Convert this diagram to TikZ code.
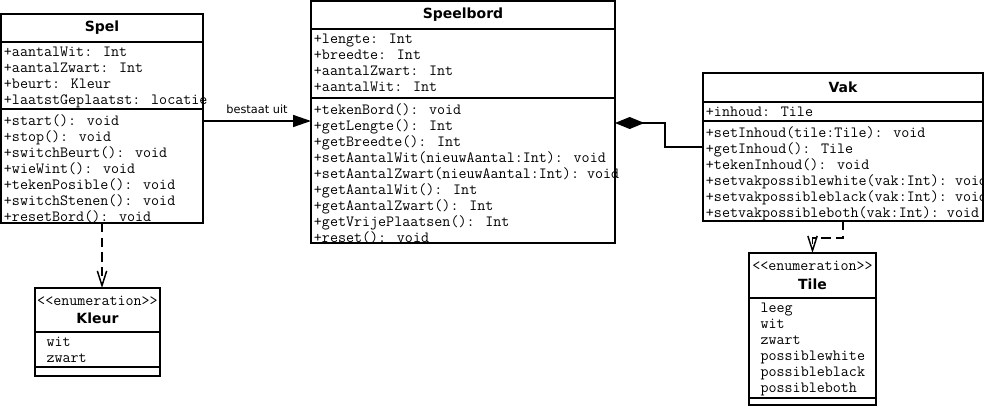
\documentclass[tikz,border=0pt]{standalone}
\usepackage{fontspec}
\setmainfont{DejaVu Sans}
\usetikzlibrary{positioning,arrows.meta}
\tikzset{
	compartment/.style 2 args={draw, line width=1.1pt, outer sep=0pt, inner sep=0pt,
		minimum width=#1*0.75pt, minimum height=#2*0.75pt},
	classname/.style={font=\fontsize{10.5}{14}\selectfont\bfseries, align=center},
	rows/.style={anchor=north west, align=left, inner xsep=2pt, inner ysep=3.8pt,
		font=\ttfamily\fontsize{11.7}{12}\selectfont},
	items/.style={rows, inner xsep=8.5pt},
	assoc/.style={line width=1.1pt, -{Triangle[length=13.5pt,width=9pt]}},
	comp/.style={line width=1.1pt, {Diamond[length=22pt,width=9pt]}-},
	dep/.style={line width=1.1pt, dash pattern=on 7pt off 4pt,
		-{Straight Barb[length=11pt,width=7pt]}}
}
\newcommand{\stereo}[1]{{\mdseries\ttfamily\fontsize{11.7}{12}\selectfont {<}{<}#1{>}{>}}}

\begin{document}
\begin{tikzpicture}[x=0.75pt, y=-0.75pt]
	\useasboundingbox (0,0) rectangle (984,407);

	\node[compartment={202}{28}, classname, anchor=north west] (spel) at (1,14) {Spel};
	\node[compartment={202}{67}, below=0pt of spel] (spel-attr) {};
	\node[compartment={202}{114}, below=0pt of spel-attr] (spel-ops) {};
	\node[rows] (spel-attr-t) at (spel-attr.north west) {+aantalWit: Int\\+aantalZwart: Int\\+beurt: Kleur\\+laatstGeplaatst: locatie};
	\node[rows] (spel-ops-t) at (spel-ops.north west) {+start(): void\\+stop(): void\\+switchBeurt(): void\\+wieWint(): void\\+tekenPosible(): void\\+switchStenen(): void\\+resetBord(): void};

	\node[compartment={304}{28}, classname, anchor=north west] (speelbord) at (311,1) {Speelbord};
	\node[compartment={304}{69}, below=0pt of speelbord] (speelbord-attr) {};
	\node[compartment={304}{145}, below=0pt of speelbord-attr] (speelbord-ops) {};
	\node[rows] (speelbord-attr-t) at (speelbord-attr.north west) {+lengte: Int\\+breedte: Int\\+aantalZwart: Int\\+aantalWit: Int};
	\node[rows] (speelbord-ops-t) at (speelbord-ops.north west) {+tekenBord(): void\\+getLengte(): Int\\+getBreedte(): Int\\+setAantalWit(nieuwAantal:Int): void\\+setAantalZwart(nieuwAantal:Int):~void\\+getAantalWit(): Int\\+getAantalZwart(): Int\\+getVrijePlaatsen(): Int\\+reset(): void};

	\node[compartment={280}{29}, classname, anchor=north west] (vak) at (703,73) {Vak};
	\node[compartment={280}{19}, below=0pt of vak] (vak-attr) {};
	\node[compartment={280}{100}, below=0pt of vak-attr] (vak-ops) {};
	\node[rows] (vak-attr-t) at (vak-attr.north west) {+inhoud: Tile};
	\node[rows] (vak-ops-t) at (vak-ops.north west) {+setInhoud(tile:Tile): void\\+getInhoud(): Tile\\+tekenInhoud(): void\\+setvakpossiblewhite(vak:Int):~void\\+setvakpossibleblack(vak:Int):~void\\+setvakpossibleboth(vak:Int):~void};

	\node[compartment={125}{44}, classname, anchor=north west] (kleur) at (35,288) {\stereo{enumeration}\\Kleur};
	\node[compartment={125}{35}, below=0pt of kleur] (kleur-items) {};
	\node[compartment={125}{9}, below=0pt of kleur-items] (kleur-ops) {};
	\node[items] (kleur-items-t) at (kleur-items.north west) {wit\\zwart};

	\node[compartment={127}{45}, classname, anchor=north west] (tile) at (749,253) {\stereo{enumeration}\\Tile};
	\node[compartment={127}{100}, below=0pt of tile] (tile-items) {};
	\node[compartment={127}{7}, below=0pt of tile-items] (tile-ops) {};
	\node[items] (tile-items-t) at (tile-items.north west) {leeg\\wit\\zwart\\possiblewhite\\possibleblack\\possibleboth};

	\coordinate (uit) at ([yshift=-9pt]spel-ops.north east);
	\draw[assoc] (uit) -- (uit -| speelbord-ops.west)
		node[midway, above=5pt, inner sep=0pt, font=\fontsize{8.5}{10}\selectfont] (uit-label) {bestaat uit};

	\coordinate (heeft) at ([yshift=-18.75pt]speelbord-ops.north east);
	\coordinate (vak-in) at ([yshift=-19.5pt]vak-ops.north west);
	\draw[comp] (heeft) -- ++(50,0) |- (vak-in);

	\draw[dep] (spel-ops.south) -- (spel-ops.south |- kleur.north);
	\draw[dep] (vak-ops.south) -- ++(0,17) -| (tile.north);
\end{tikzpicture}
\end{document}
